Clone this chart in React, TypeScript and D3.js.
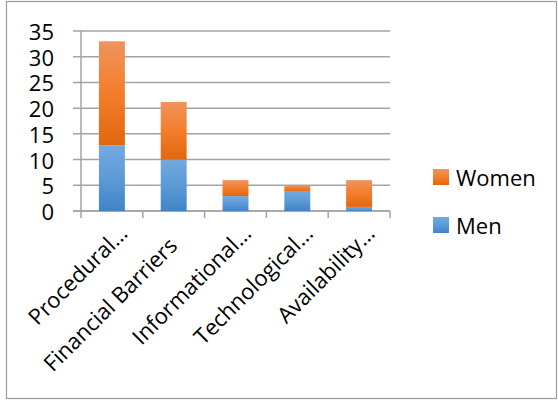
import React from "react";
import * as d3 from "d3";

// Barrier categories and counts by gender
const categories = [
  "Procedural…",
  "Financial Barriers   ",
  "Informational…",
  "Technological…",
  "Availability…",
];
const menValues = [12.8, 10, 2.9, 3.9, 0.8];
const womenValues = [20.2, 11.2, 3.1, 1.1, 5.2];
const yTicks = [0, 5, 10, 15, 20, 25, 30, 35];
const seriesNames = ["Men", "Women"];

const W = 558;
const H = 400;
const FONT = "'Open Sans', 'Liberation Sans', sans-serif";
const GRID = "#A3A3A3";

export default function App() {
  const x = d3
    .scaleBand<string>()
    .domain(categories)
    .range([81, 390])
    .paddingInner(0.58)
    .paddingOuter(0.29);
  const y = d3.scaleLinear().domain([0, 35]).range([211, 31]);

  const rows = categories.map((c, i) => ({ cat: c, Men: menValues[i], Women: womenValues[i] }));
  const stacked = d3.stack<any>().keys(seriesNames)(rows);

  const step = x.step();
  const x0 = x.range()[0];
  const boundaries = d3.range(categories.length + 1).map((i) => x0 + i * step);

  const fills: Record<string, string> = { Men: "url(#gMen)", Women: "url(#gWomen)" };

  return (
    <div style={{ position: "fixed", left: 0, top: 0 }}>
      <svg width={W} height={H} style={{ display: "block", background: "#fff" }}>
        <defs>
          <linearGradient id="gWomen" x1="0" y1="0" x2="0" y2="1">
            <stop offset="0" stopColor="#F0935E" />
            <stop offset="0.5" stopColor="#F47D2C" />
            <stop offset="1" stopColor="#E2670C" />
          </linearGradient>
          <linearGradient id="gMen" x1="0" y1="0" x2="0" y2="1">
            <stop offset="0" stopColor="#75A9DD" />
            <stop offset="0.5" stopColor="#5B9BD8" />
            <stop offset="1" stopColor="#4283C7" />
          </linearGradient>
        </defs>

        {/* chart frame */}
        <rect x={6.5} y={1.5} width={550} height={397} fill="none" stroke="#9C9C9C" strokeWidth={1.2} />

        {/* horizontal gridlines and y ticks */}
        {yTicks.map((t) => (
          <line key={"g" + t} x1={73} x2={390} y1={y(t)} y2={y(t)} stroke={GRID} strokeWidth={1.5} />
        ))}
        {yTicks.map((t) => (
          <text
            key={"t" + t}
            x={54}
            y={y(t)}
            textAnchor="end"
            dominantBaseline="central"
            fontFamily={FONT}
            fontSize={22}
            fill="#000"
          >
            {t}
          </text>
        ))}

        {/* axes */}
        <line x1={81} x2={81} y1={y(35)} y2={y(0)} stroke={GRID} strokeWidth={1.5} />
        <line x1={73} x2={390} y1={y(0)} y2={y(0)} stroke={GRID} strokeWidth={1.5} />
        {boundaries.map((b, i) => (
          <line key={"b" + i} x1={b} x2={b} y1={y(0)} y2={y(0) + 7} stroke={GRID} strokeWidth={1.5} />
        ))}

        {/* stacked bars */}
        {stacked.map((s) => (
          <g key={s.key} fill={fills[s.key]}>
            {s.map((d, i) => (
              <rect
                key={i}
                x={x(categories[i])}
                width={x.bandwidth()}
                y={y(d[1])}
                height={y(d[0]) - y(d[1])}
              />
            ))}
          </g>
        ))}

        {/* category labels */}
        {categories.map((c) => {
          const cx = (x(c) as number) + x.bandwidth() / 2 + 17;
          const cy = y(0) + 24;
          return (
            <text
              key={c}
              x={cx}
              y={cy}
              transform={`rotate(-45 ${cx} ${cy})`}
              textAnchor="end"
              fontFamily={FONT}
              fontSize={22}
              fill="#000"
              style={{ whiteSpace: "pre" }}
            >
              {c}
            </text>
          );
        })}

        {/* legend */}
        {["Women", "Men"].map((k, i) => (
          <g key={k} transform={`translate(433, ${169 + i * 48})`}>
            <rect x={0} y={0} width={16} height={16} fill={fills[k]} />
            <text x={23} y={8} dominantBaseline="central" fontFamily={FONT} fontSize={22} fill="#000">
              {k}
            </text>
          </g>
        ))}
      </svg>
    </div>
  );
}
